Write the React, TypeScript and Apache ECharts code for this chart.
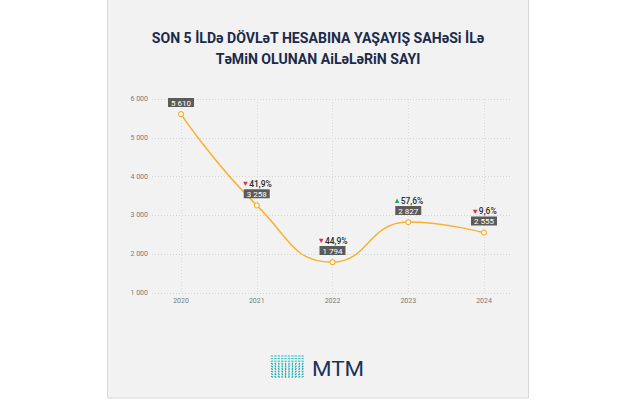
import React, { useEffect, useRef } from "react";
import * as echarts from "echarts";

const years = ["2020", "2021", "2022", "2023", "2024"];
const values = [5610, 3258, 1794, 2827, 2555];
const changes: (number | null)[] = [null, -41.9, -44.9, 57.6, -9.6];
const yTicks = { min: 1000, max: 6000, interval: 1000 };
const titleLines = [
  "SON 5 İLDə DÖVLəT HESABINA YAŞAYIŞ SAHəSi İLə",
  "TəMiN OLUNAN AiLəLəRiN SAYI",
];

const fmt = (n: number) => String(n).replace(/\B(?=(\d{3})+(?!\d))/g, " ");
const fmtPct = (p: number) => Math.abs(p).toFixed(1).replace(".", ",") + "%";

function logoElements() {
  const els: any[] = [];
  const cols = 10;
  const rows = 9;
  const x0 = 272;
  const y0 = 356;
  const dx = 3.4;
  const dy = 2.6;
  const cx = x0 + ((cols - 1) * dx) / 2;
  const cy = y0 + (rows - 1) * dy + 8;
  for (let r = 0; r < rows; r++) {
    for (let c = 0; c < cols; c++) {
      const px = x0 + c * dx;
      const py = y0 + r * dy;
      const ang = r < 3 ? 0 : Math.atan2(py - cy, px - cx);
      const len = r < 3 ? 1.2 : 1.1;
      els.push({
        type: "line",
        shape: {
          x1: px - Math.cos(ang) * len,
          y1: py - Math.sin(ang) * len,
          x2: px + Math.cos(ang) * len,
          y2: py + Math.sin(ang) * len,
        },
        style: { stroke: r < 3 ? "#43c4c6" : "#1ea8ae", lineWidth: 1.2 },
      });
    }
  }
  return els;
}

export default function App() {
  const ref = useRef<HTMLDivElement>(null);
  useEffect(() => {
    if (!ref.current) return;
    const chart = echarts.init(ref.current, null, { renderer: "svg" });
    const font = "Roboto";
    const option: any = {
      animation: false,
      textStyle: { fontFamily: font },
      graphic: [
        {
          type: "rect",
          z: -10,
          silent: true,
          shape: { x: 107.5, y: -1, width: 421, height: 399 },
          style: { fill: "#f2f2f2", stroke: "#d6d6d6", lineWidth: 1 },
        },
        ...titleLines.map((t, i) => ({
          type: "text",
          x: 318,
          y: 38 + i * 21.5,
          scaleX: 0.94,
          style: {
            text: t,
            fill: "#1b2b4b",
            font: `bold 15px ${font}`,
            textAlign: "center",
            textVerticalAlign: "middle",
          },
        })),
        { type: "group", children: logoElements() },
        {
          type: "text",
          x: 312,
          y: 369,
          scaleX: 1.12,
          style: {
            text: "MTM",
            fill: "#1d3258",
            font: `400 20px ${font}`,
            textAlign: "left",
            textVerticalAlign: "middle",
          },
        },
      ],
      grid: [
        { left: 152, right: 125, top: 99, bottom: 107 },
        { left: 181, right: 153, top: 99, bottom: 107 },
      ],
      xAxis: [
        { type: "category", gridIndex: 0, show: false, data: years },
        {
          type: "category",
          gridIndex: 1,
          data: years,
          boundaryGap: false,
          axisLine: { show: false },
          axisTick: { show: false },
          axisLabel: { fontSize: 7, color: "#7a7a7a", margin: 4 },
          splitLine: { show: true, lineStyle: { color: "#d9d9d9", type: [1, 2], width: 1 } },
        },
      ],
      yAxis: [
        {
          type: "value",
          gridIndex: 0,
          ...yTicks,
          axisLine: { show: false },
          axisTick: { show: false },
          axisLabel: { fontSize: 7, color: "#7a7a7a", margin: 4, formatter: (v: number) => fmt(v) },
          splitLine: { show: true, lineStyle: { color: "#d4d4d4", type: [1, 2], width: 1 } },
        },
        { type: "value", gridIndex: 1, ...yTicks, show: false },
      ],
      series: [
        {
          type: "line",
          xAxisIndex: 1,
          yAxisIndex: 1,
          data: values,
          smooth: 0.5,
          symbol: "circle",
          symbolSize: 5,
          lineStyle: { color: "#f6b32d", width: 1.5 },
          itemStyle: { color: "#ffffff", borderColor: "#f6b32d", borderWidth: 1.2 },
          label: {
            show: true,
            position: "top",
            distance: 4,
            formatter: (p: any) => {
              const i = p.dataIndex;
              const ch = changes[i];
              const box = `{box|${fmt(values[i])}}`;
              if (ch == null) return box;
              const tri = ch < 0 ? "{dn|▼}" : "{up|▲}";
              return `${tri}{pct|${fmtPct(ch)}}\n${box}`;
            },
            rich: {
              box: {
                backgroundColor: "#5b5b5b",
                color: "#ffffff",
                fontSize: 8,
                padding: [1, 3, 0, 3],
                lineHeight: 9,
                fontFamily: font,
              },
              pct: { color: "#2b2b2b", fontSize: 8.5, fontWeight: 500, lineHeight: 11, fontFamily: font },
              dn: { color: "#e8283a", fontSize: 7.5, lineHeight: 11 },
              up: { color: "#22a45a", fontSize: 7.5, lineHeight: 11 },
            },
          },
        },
      ],
    };
    chart.setOption(option);
    return () => chart.dispose();
  }, []);
  return (
    <div
      ref={ref}
      style={{ position: "fixed", left: 0, top: 0, width: 637, height: 400, background: "#ffffff" }}
    />
  );
}
